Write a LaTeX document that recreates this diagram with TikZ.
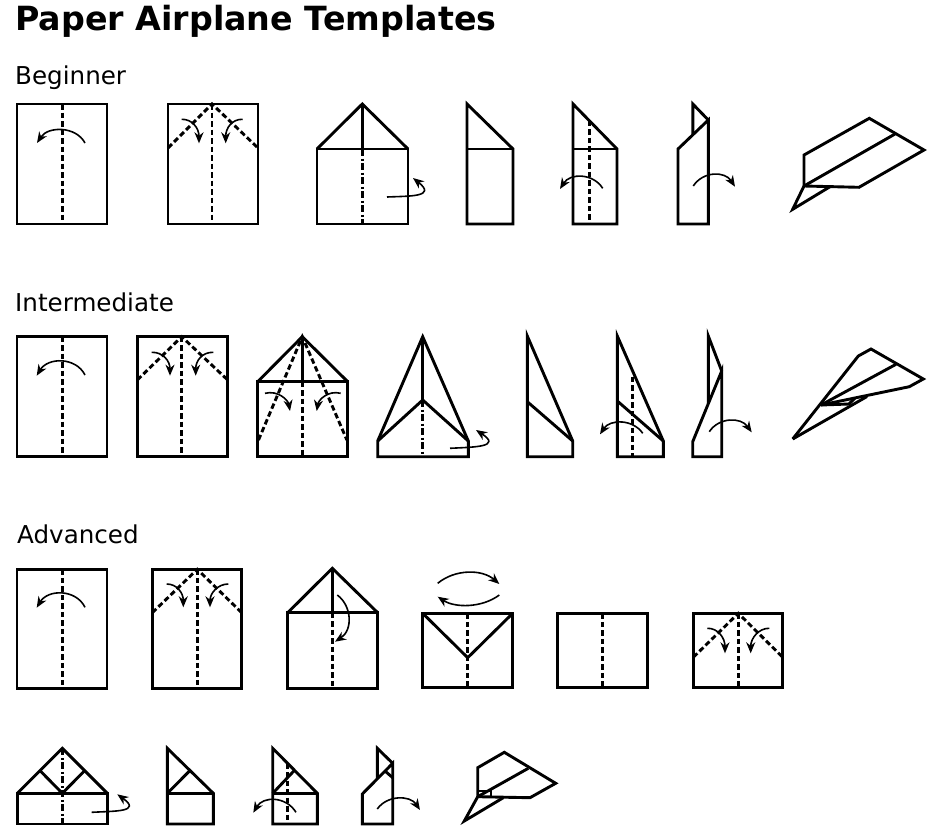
\documentclass[tikz,border=0pt]{standalone}
\usepackage{fontspec}
\setmainfont{DejaVu Sans}
\usetikzlibrary{arrows.meta}
\tikzset{
 edge/.style={line width=2.9pt, line join=miter, miter limit=6},
 crease/.style={line width=2.9pt, dash pattern=on 5.5pt off 3pt},
 mcrease/.style={line width=2.6pt, dash pattern=on 7pt off 2.5pt on 2pt off 2.5pt},
 turn/.style={line width=1.6pt, -{Stealth[length=11pt,width=9pt,inset=3.5pt]}},
 lbl/.style={anchor=base west, inner sep=0pt, font=\fontsize{24.6}{28}\selectfont},
}
\begin{document}
\begin{tikzpicture}[x=1pt,y=-1pt]
\useasboundingbox (0,0) rectangle (929,830);
\node[anchor=base west, inner sep=0pt, font=\bfseries\fontsize{33.3}{38}\selectfont] (title) at (15,30) {Paper Airplane Templates};
\node[lbl] (beg) at (15,84) {Beginner};
\node[lbl] (inter) at (15,311) {Intermediate};
\node[lbl] (adv) at (17,543.5) {Advanced};

% ---------- Beginner ----------
% B1
\draw[crease] (62.3,104) -- (62.3,224);
\draw[edge] (17,104) rectangle (107,224);
\draw[turn] (85,143) .. controls (76,126) and (48,126) .. (37,143);
% B2
\draw[crease] (212,104) -- (212,224);
\draw[crease] (168,148) -- (212,104) -- (258,148);
\draw[edge] (168,104) rectangle (258,224);
\draw[turn] (181.7,119.3) .. controls (192,119) and (199,128) .. (199,143.3);
\draw[turn] (242.7,119.3) .. controls (232,119) and (225.7,128) .. (225.7,143.3);
% B3
\draw[mcrease] (362.3,149) -- (362.3,224);
\draw[edge] (317,149) rectangle (408,224);
\draw[edge] (317,149) -- (362.3,104) -- (408,149);
\draw[edge] (362.3,104) -- (362.3,149);
\draw[turn] (387,197) .. controls (410,196) and (437,197) .. (413,178);
% B4
\draw[edge] (467,104) -- (513,149) -- (513,224) -- (467,224) -- cycle;
\draw[edge] (467,149) -- (513,149);
% B5
\draw[crease] (589.3,120.5) -- (589.3,224);
\draw[edge] (573,104) -- (617,149) -- (617,224) -- (573,224) -- cycle;
\draw[edge] (573,149) -- (617,149);
\draw[turn] (602.7,188.3) .. controls (593,173) and (570,173) .. (560,189);
% B6
\draw[edge] (678,224) -- (678,149) -- (708.3,120) -- (708.3,224) -- cycle;
\draw[edge] (692.8,134.4) -- (692.8,104) -- (708.3,120);
\draw[turn] (693.3,186) .. controls (703,171) and (725,171) .. (735,186.7);
% B7
\draw[edge] (804,186) -- (804,155) -- (869.3,118.3) -- (924,150) -- (859,187.3) -- cycle;
\draw[edge] (804,186) -- (895,134);
\draw[edge] (804,186) -- (792.7,209.3) -- (830,186.7);

% ---------- Intermediate ----------
% I1
\draw[crease] (62.3,336.7) -- (62.3,456.7);
\draw[edge] (17,336.7) rectangle (107,456.7);
\draw[turn] (85,375) .. controls (76,357) and (48,357) .. (36.7,375.7);
% I2
\draw[crease] (181.7,336.7) -- (181.7,456.7);
\draw[crease] (137.3,380) -- (181.7,336.7) -- (227.7,380);
\draw[edge] (137.3,336.7) rectangle (227.7,456.7);
\draw[turn] (151.7,352.3) .. controls (163,352) and (170,361) .. (170,375.7);
\draw[turn] (213.3,352.3) .. controls (202,352) and (195.7,361) .. (195.7,375.7);
% I3
\draw[crease] (302.3,381.7) -- (302.3,456.7);
\draw[crease] (258.5,440) -- (302.3,336.7) -- (346.9,440);
\draw[edge] (257.7,381.7) rectangle (347.7,456.7);
\draw[edge] (257.7,381.7) -- (302.3,336.7) -- (347.7,381.7);
\draw[edge] (302.3,336.7) -- (302.3,381.7);
\draw[turn] (265,393.3) .. controls (278,390) and (288,400) .. (290,411);
\draw[turn] (340.7,393.3) .. controls (328,390) and (318.5,400) .. (316.7,411);
% I4
\draw[mcrease] (422.7,400) -- (422.7,456.7);
\draw[edge] (377.7,441) -- (422.7,336.7) -- (468.3,441) -- (468.3,456.7) -- (377.7,456.7) -- cycle;
\draw[edge] (377.7,441) -- (422.7,400) -- (468.3,441);
\draw[edge] (422.7,336.7) -- (422.7,400);
\draw[turn] (450,448.3) .. controls (475,447) and (502,447) .. (476,430);
% I5
\draw[edge] (527.3,336) -- (572.7,441) -- (572.7,456.7) -- (527.3,456.7) -- cycle;
\draw[edge] (527.3,401.7) -- (572.7,441);
% I6
\draw[crease] (632.7,376.5) -- (632.7,456.7);
\draw[edge] (617.3,336) -- (663.3,441) -- (663.3,456.7) -- (617.3,456.7) -- cycle;
\draw[edge] (617.3,401) -- (663.3,441);
\draw[turn] (642.7,433.3) .. controls (633,419) and (610,419) .. (600,434.3);
% I7
\draw[edge] (692.7,456.7) -- (692.7,441.7) -- (721.7,371) -- (721.7,456.7) -- cycle;
\draw[edge] (708.3,403.7) -- (708.3,336) -- (721.7,371);
\draw[turn] (709.3,431.7) .. controls (719,417) and (741,417) .. (751.7,432.3);
% I8
\draw[edge] (792.7,439) -- (858.3,356) -- (871,349) -- (923.3,379) -- (909.3,386.7) -- (821,405);
\draw[edge] (821,405) -- (896,364.3);
\draw[edge] (792.7,439) -- (867,396.5);
\draw[edge] (821,405) -- (849,404) -- (855,398);

% ---------- Advanced row 1 ----------
% A1
\draw[crease] (62.3,569.3) -- (62.3,688.3);
\draw[edge] (17,569.3) rectangle (107,688.3);
\draw[turn] (85,607.3) .. controls (76,589) and (48,589) .. (36.7,607.7);
% A2
\draw[crease] (197.3,569.3) -- (197.3,688.3);
\draw[crease] (152.3,612.7) -- (197.3,569.3) -- (241.7,612.7);
\draw[edge] (152.3,569.3) rectangle (241.7,688.3);
\draw[turn] (166.7,584) .. controls (177,584) and (183.3,593) .. (183.3,607.3);
\draw[turn] (228.3,584) .. controls (218,584) and (210,593) .. (210,607.3);
% A3
\draw[crease] (332.3,612.7) -- (332.3,688.3);
\draw[edge] (287.7,612.7) rectangle (377.7,688.3);
\draw[edge] (287.7,612.7) -- (332.3,568.3) -- (377.7,612.7);
\draw[edge] (332.3,568.3) -- (332.3,612.7);
\draw[turn] (337.3,595) .. controls (352,606) and (353,630) .. (335,641.7);
% A4
\draw[crease] (467.7,613.3) -- (467.7,687.7);
\draw[edge] (422.7,613.3) rectangle (512.7,687.7);
\draw[edge] (422.7,613.3) -- (467.7,657.7) -- (512.7,613.3);
\draw[turn] (437.7,583.3) .. controls (455,569) and (482,569) .. (499.3,584);
\draw[turn] (499.3,595) .. controls (482,608) and (455,608) .. (437.7,596.7);
% A5
\draw[crease] (602.3,613.3) -- (602.3,687.7);
\draw[edge] (557.7,613.3) rectangle (647.7,687.7);
% A6
\draw[crease] (738.3,613.3) -- (738.3,687.7);
\draw[crease] (693.3,657.3) -- (738.3,613.3) -- (782.7,657.3);
\draw[edge] (693.3,613.3) rectangle (782.7,687.7);
\draw[turn] (707.3,628.3) .. controls (718,628) and (725,638) .. (725,653.3);
\draw[turn] (769.3,628.3) .. controls (759,628) and (750.7,638) .. (750.7,653.3);

% ---------- Advanced row 2 ----------
% A7
\draw[mcrease] (62.3,748.3) -- (62.3,824);
\draw[edge] (17.3,793.3) rectangle (107.3,824);
\draw[edge] (17.3,793.3) -- (62.3,748.3) -- (107.3,793.3);
\draw[edge] (40.2,770.8) -- (62.3,793.3) -- (84.5,770.8);
\draw[turn] (91.7,812.3) .. controls (115,811) and (142,812) .. (117.3,794.3);
% A8
\draw[edge] (167.3,748.3) -- (213.3,793.3) -- (213.3,824) -- (167.3,824) -- cycle;
\draw[edge] (167.3,793.3) -- (213.3,793.3);
\draw[edge] (167.3,793.3) -- (190,770.5);
% A9
\draw[crease] (287.3,763.5) -- (287.3,824);
\draw[edge] (272.7,748.3) -- (317.3,793.3) -- (317.3,824) -- (272.7,824) -- cycle;
\draw[edge] (272.7,793.3) -- (317.3,793.3);
\draw[edge] (272.7,793.3) -- (294.5,770.3);
\draw[turn] (296,812.3) .. controls (286,796) and (263,796) .. (253.3,812.7);
% A10
\draw[edge] (362.3,824) -- (362.3,794) -- (392.7,763.3) -- (392.7,824) -- cycle;
\draw[edge] (377.3,778.9) -- (377.3,748.3) -- (392.7,763.3);
\draw[edge] (385,771) -- (392.7,777.7);
\draw[turn] (377.3,809) .. controls (387,795) and (410,795) .. (420,810);
% A11
\draw[edge] (477.7,796.7) -- (477.7,767.7) -- (504.3,752.3) -- (555.7,783.3) -- (530,797.7) -- cycle;
\draw[edge] (477.7,796.7) -- (528.3,768.3);
\draw[edge] (477.7,796.7) -- (464.3,821) -- (503.3,797.7);
\draw[edge] (477.7,791) -- (491,791) -- (491,797.2);
\end{tikzpicture}
\end{document}
